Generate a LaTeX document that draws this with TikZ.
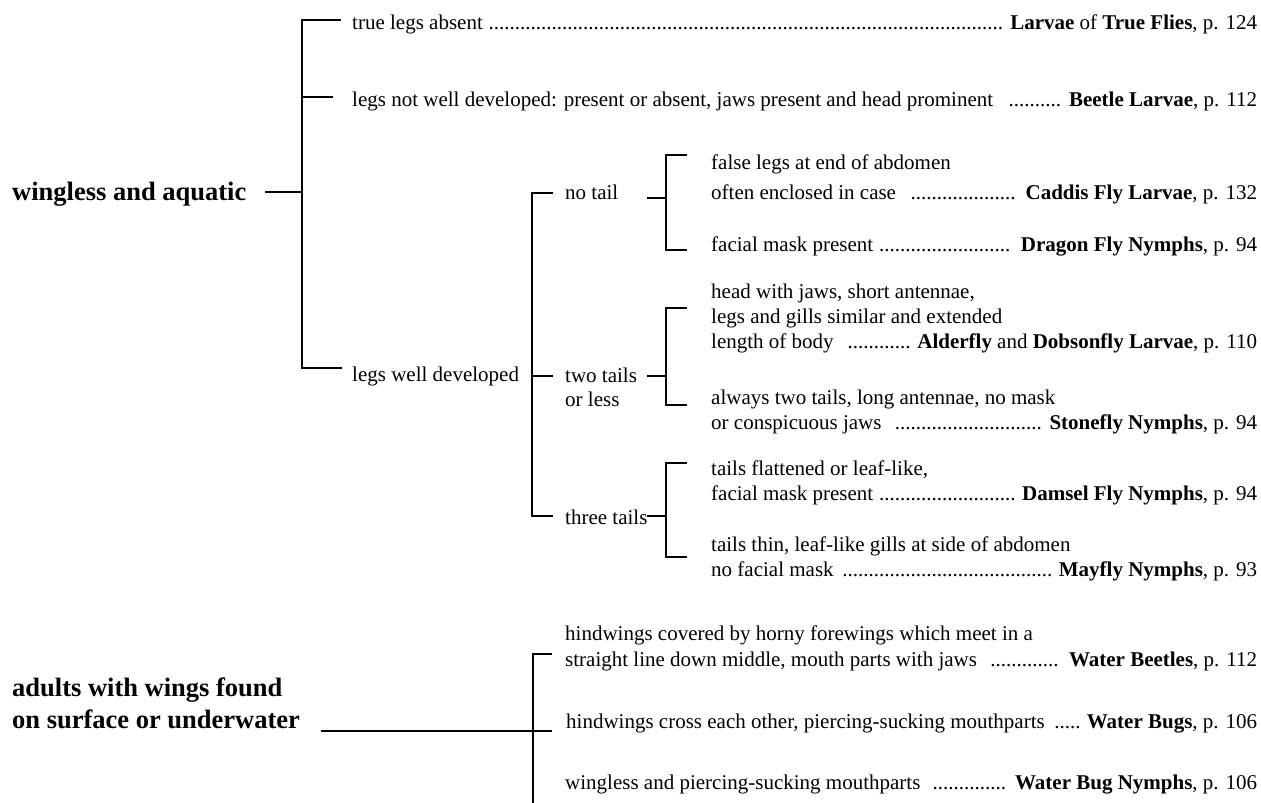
\documentclass[tikz,border=0pt]{standalone}
\usepackage{fontspec}
\setmainfont{Liberation Serif}
% dotted leader between a description and its result
\newcommand\dotlead{\leaders\hbox{.}\hfill}
\newcommand\keyline[3]{\hbox to #1pt{#2\dotlead#3}}
\tikzset{
  body/.style={anchor=mid west, inner sep=0pt, yshift=-4pt, font=\fontsize{21}{25}\selectfont},
  head/.style={anchor=mid west, inner sep=0pt, yshift=-6pt, font=\fontsize{26.5}{31}\selectfont\bfseries},
  heavy/.style={line width=2pt, line join=miter},
  light/.style={line width=1.4pt, line join=miter},
}
\begin{document}
\begin{tikzpicture}[x=1pt,y=-1pt]
\useasboundingbox (0,0) rectangle (1261,803);

% ---------- wingless and aquatic ----------
\node[head] (wingless) at (12,192) {wingless and aquatic};

\node[body] (trueabs) at (352,23) {\keyline{905}{true legs absent\ }{\ \textbf{Larvae} of \textbf{True Flies}, p. 124}};
\node[body] (notwell) at (352,100) {\keyline{905}{legs not well developed: present or absent, jaws present and head prominent\hspace{0.7em}}{\ \textbf{Beetle Larvae}, p. 112}};
\node[body] (welldev) at (352,375) {legs well developed};

\coordinate (a1) at (302,20);
\coordinate (a2) at (302,97);
\coordinate (a0) at (302,192);
\coordinate (a3) at (302,368);
\draw[heavy] (341,20) -- (a1) -- (a3) -- (342,368);
\draw[heavy] (a2) -- (333,97);
\draw[heavy] (265,192) -- (a0);

% tails
\node[body] (notail) at (565,193) {no tail};
\node[body] (twotails) at (565,376) {two tails};
\node[body] (orless) at (565,400) {or less};
\node[body] (threetails) at (565,518) {three tails};

\coordinate (b1) at (532,193);
\coordinate (b2) at (532,376);
\coordinate (b3) at (532,516);
\draw[heavy] (553,193) -- (b1) -- (b3) -- (553,516);
\draw[heavy] (b2) -- (553,376);

% no tail
\coordinate (c1t) at (666,155);
\coordinate (c1b) at (666,250);
\draw[heavy] (687,155) -- (c1t) -- (c1b) -- (687,250);
\draw[heavy] (647,198) -- (666,198);
\node[body] (caddisA) at (711,163) {false legs at end of abdomen};
\node[body] (caddisB) at (711,193) {\keyline{546}{often enclosed in case\ \ }{\ \textbf{Caddis Fly Larvae}, p. 132}};
\node[body] (dragon) at (711,245) {\keyline{546}{facial mask present\ }{\ \textbf{Dragon Fly Nymphs}, p. 94}};

% two tails or less
\coordinate (c2t) at (666,308);
\coordinate (c2b) at (666,405);
\draw[heavy] (687,308) -- (c2t) -- (c2b) -- (687,405);
\draw[heavy] (647,376) -- (666,376);
\node[body] (alderA) at (711,292) {head with jaws, short antennae,};
\node[body] (alderB) at (711,317) {legs and gills similar and extended};
\node[body] (alderC) at (711,342) {\keyline{546}{length of body\ \ }{\ \textbf{Alderfly} and \textbf{Dobsonfly Larvae}, p. 110}};
\node[body] (stoneA) at (711,398) {always two tails, long antennae, no mask};
\node[body] (stoneB) at (711,423) {\keyline{546}{or conspicuous jaws\ \ }{\ \textbf{Stonefly Nymphs}, p. 94}};

% three tails
\coordinate (c3t) at (666,463);
\coordinate (c3b) at (666,557);
\draw[heavy] (687,463) -- (c3t) -- (c3b) -- (687,557);
\draw[heavy] (647,516) -- (666,516);
\node[body] (damselA) at (711,469) {tails flattened or leaf-like,};
\node[body] (damselB) at (711,494) {\keyline{546}{facial mask present\ }{\ \textbf{Damsel Fly Nymphs}, p. 94}};
\node[body] (mayA) at (711,545) {tails thin, leaf-like gills at side of abdomen};
\node[body] (mayB) at (711,570) {\keyline{546}{no facial mask\ }{\ \textbf{Mayfly Nymphs}, p. 93}};

% ---------- adults with wings ----------
\node[head] (adultsA) at (12,688) {adults with wings found};
\node[head] (adultsB) at (12,720) {on surface or underwater};

\coordinate (d1) at (533,654);
\coordinate (d2) at (533,731);
\coordinate (d3) at (533,803);
\draw[light] (552,654) -- (d1) -- (d3);
\draw[light] (321,731) -- (552,731);

\node[body] (beetleA) at (565,634) {hindwings covered by horny forewings which meet in a};
\node[body] (beetleB) at (565,660) {\keyline{692}{straight line down middle, mouth parts with jaws\ \ }{\ \textbf{Water Beetles}, p. 112}};
\node[body] (bugs) at (566,722) {\keyline{691}{hindwings cross each other, piercing-sucking mouthparts\ }{\ \textbf{Water Bugs}, p. 106}};
\node[body] (nymphs) at (565,783) {\keyline{692}{wingless and piercing-sucking mouthparts\ \ }{\ \textbf{Water Bug Nymphs}, p. 106}};
\end{tikzpicture}
\end{document}
